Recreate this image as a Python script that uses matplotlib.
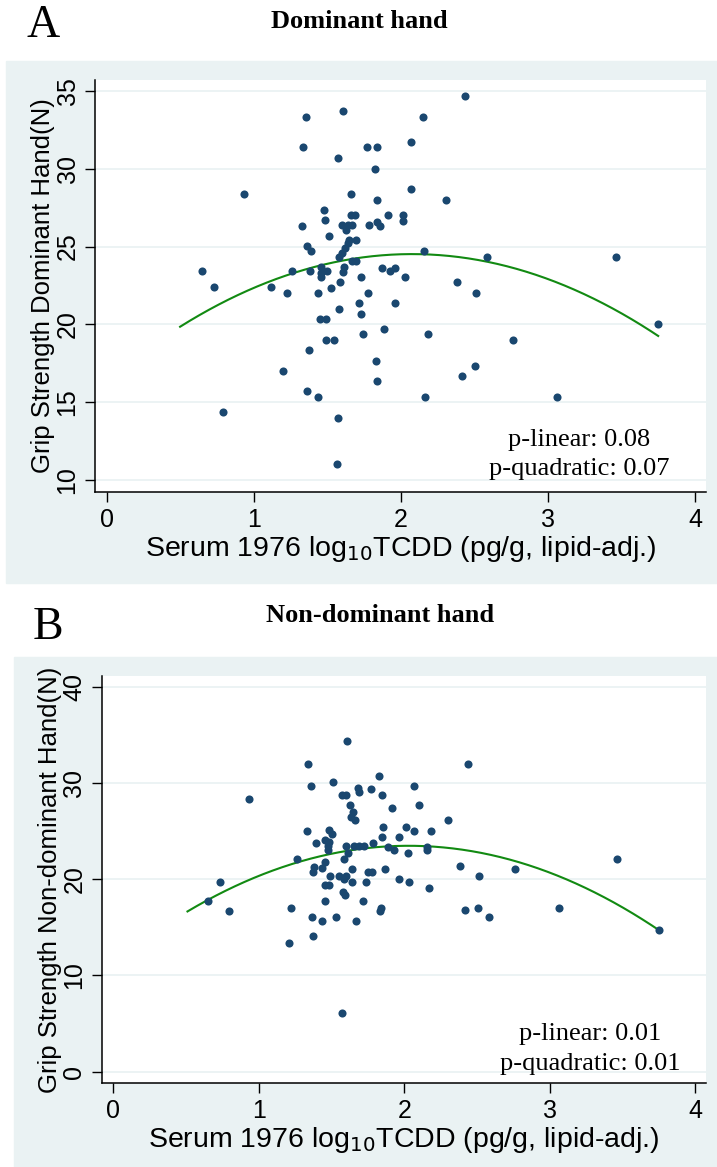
import numpy as np
import matplotlib
matplotlib.use('Agg')
import matplotlib.pyplot as plt
from matplotlib.patches import Rectangle

# Panel A: dominant hand, serum 1976 log10 TCDD vs grip strength (N)
dom_x = [0.646, 0.73, 0.795, 0.935, 1.115, 1.20, 1.226, 1.258, 1.328, 1.333,
         1.358, 1.36, 1.364, 1.378, 1.382, 1.39, 1.435, 1.438, 1.45, 1.457,
         1.457, 1.457, 1.476, 1.487, 1.489, 1.491, 1.50, 1.511, 1.527, 1.546,
         1.569, 1.573, 1.575, 1.579, 1.582, 1.589, 1.598, 1.598, 1.606, 1.605,
         1.613, 1.62, 1.627, 1.643, 1.64, 1.65, 1.66, 1.661, 1.666, 1.67,
         1.69, 1.693, 1.693, 1.713, 1.727, 1.733, 1.745, 1.768, 1.774, 1.781,
         1.824, 1.831, 1.838, 1.839, 1.84, 1.84, 1.858, 1.872, 1.885, 1.912,
         1.93, 1.962, 1.964, 2.012, 2.016, 2.026, 2.07, 2.07, 2.153, 2.155,
         2.166, 2.184, 2.31, 2.38, 2.417, 2.44, 2.504, 2.513, 2.585, 2.76,
         3.06, 3.46, 3.75]
dom_y = [23.4, 22.4, 14.35, 28.4, 22.4, 17.0, 22.0, 23.4, 26.35, 31.4,
         33.3, 25.05, 15.7, 18.35, 23.4, 24.7, 22.0, 15.35, 20.35, 23.7,
         23.3, 23.05, 27.35, 26.7, 20.35, 19.0, 23.4, 25.7, 22.35, 19.0,
         11.05, 14.0, 30.7, 24.3, 21.0, 22.7, 24.6, 26.4, 33.7, 23.35,
         23.7, 24.9, 26.05, 25.2, 26.4, 25.4, 28.4, 27.0, 24.05, 26.4,
         27.0, 25.4, 24.05, 21.35, 20.65, 23.05, 19.35, 31.4, 22.0, 26.4,
         30.0, 17.65, 16.35, 31.4, 28.0, 26.6, 26.35, 23.65, 19.7, 27.0,
         23.4, 23.65, 21.35, 26.65, 27.0, 23.05, 31.7, 28.7, 33.3, 24.7,
         15.35, 19.35, 28.0, 22.7, 16.7, 34.7, 17.35, 22.0, 24.35, 19.0,
         15.35, 24.35, 20.0]
# fitted (adjusted) quadratic curve
dom_fit_x = [0.5, 0.91, 1.0, 1.5, 2.0, 2.15, 2.58, 2.88, 3.22, 3.44, 3.75]
dom_fit_y = [19.9, 22.0, 22.32, 23.75, 24.42, 24.5, 24.18, 23.39, 22.1, 20.97, 19.2]

# Panel B: non-dominant hand
nondom_x = [0.649, 0.734, 0.797, 0.935, 1.205, 1.225, 1.262, 1.333, 1.337, 1.36,
            1.367, 1.372, 1.376, 1.378, 1.395, 1.435, 1.438, 1.454, 1.454, 1.456,
            1.456, 1.475, 1.479, 1.481, 1.481, 1.486, 1.493, 1.502, 1.513, 1.529,
            1.55, 1.572, 1.573, 1.577, 1.584, 1.585, 1.594, 1.600, 1.601, 1.601,
            1.606, 1.612, 1.628, 1.632, 1.639, 1.642, 1.645, 1.658, 1.664, 1.671,
            1.68, 1.692, 1.692, 1.717, 1.726, 1.738, 1.749, 1.772, 1.779, 1.783,
            1.825, 1.834, 1.841, 1.845, 1.847, 1.852, 1.870, 1.886, 1.914, 1.927,
            1.962, 1.966, 2.012, 2.023, 2.03, 2.069, 2.07, 2.099, 2.154, 2.154,
            2.168, 2.184, 2.298, 2.381, 2.419, 2.44, 2.506, 2.516, 2.585, 2.761,
            3.062, 3.46, 3.755]
nondom_y = [17.7, 19.7, 16.7, 28.35, 13.4, 17.05, 22.05, 25.05, 32.0, 29.7,
            16.1, 20.7, 14.05, 21.25, 23.8, 21.15, 15.7, 24.05, 17.7, 21.8,
            19.4, 23.05, 23.45, 25.1, 23.9, 19.4, 20.35, 24.7, 30.05, 16.1,
            20.35, 6.05, 28.75, 18.7, 22.05, 20.0, 18.4, 28.75, 23.4, 20.35,
            34.35, 22.7, 27.75, 26.45, 21.05, 19.7, 27.0, 23.4, 26.15, 15.7,
            29.45, 29.05, 23.4, 17.7, 23.4, 19.7, 20.75, 29.35, 20.75, 23.75,
            30.7, 16.7, 17.05, 28.7, 24.35, 25.4, 21.1, 23.3, 27.35, 23.05,
            24.35, 20.0, 25.4, 22.7, 19.7, 29.7, 25.05, 27.75, 23.3, 23.0,
            19.1, 25.05, 26.1, 21.4, 16.75, 32.0, 17.05, 20.35, 16.05, 21.05,
            17.05, 22.05, 14.7]
nondom_fit_x = [0.51, 1.14, 1.6, 1.83, 2.16, 2.52, 2.86, 3.2, 3.48, 3.75]
nondom_fit_y = [16.56, 21.3, 22.86, 23.31, 23.48, 22.79, 21.47, 19.22, 17.14, 14.9]

xticks = [0, 1, 2, 3, 4]
dom_yticks = [10, 15, 20, 25, 30, 35]
nondom_yticks = [0, 10, 20, 30, 40]
p_dom = ['0.08', '0.07']
p_nondom = ['0.01', '0.01']

W, H = 717, 1167
bg = '#eaf2f3'
navy = '#1a476f'
green = '#128a12'
sans = 'Liberation Sans'
serif = 'Liberation Serif'

def fx(x):
    return x / W

def fy(y):
    return 1 - y / H

fig = plt.figure(figsize=(W / 100, H / 100), dpi=100)
fig.patch.set_facecolor('white')

# outer graph regions (behind the axes)
fig.patches.append(Rectangle((fx(5.5), fy(583)), 1 - fx(5.5), (583 - 61) / H,
                             transform=fig.transFigure, color=bg, zorder=-10))
fig.patches.append(Rectangle((fx(13.7), 0), 1 - fx(13.7), (1167 - 656.7) / H,
                             transform=fig.transFigure, color=bg, zorder=-10))

def draw_panel(box, x, y, fit_x, fit_y, yticks, ylim, ylabel):
    left, top, right, bottom = box
    ax = fig.add_axes([fx(left), fy(bottom), fx(right) - fx(left), (bottom - top) / H])
    ax.set_zorder(1)
    ax.set_facecolor('white')
    for yt in yticks:
        ax.axhline(yt, color=bg, lw=1.3, zorder=1)
    ax.scatter(x, y, s=34, color=navy, lw=0, zorder=3)
    # quadratic through the curve values
    coef = np.polyfit(fit_x, fit_y, 2)
    xs = np.linspace(min(fit_x), max(fit_x), 200)
    ax.plot(xs, np.polyval(coef, xs), color=green, lw=1.5, zorder=2)
    ax.set_xlim(-0.075, 4.075)
    ax.set_ylim(*ylim)
    ax.set_xticks(xticks)
    ax.set_yticks(yticks)
    for s in ['top', 'right']:
        ax.spines[s].set_visible(False)
    for s in ['left', 'bottom']:
        ax.spines[s].set_linewidth(1.1)
    ax.tick_params(length=7, width=1.0, labelsize=18, pad=5)
    ax.tick_params(axis='y', labelrotation=90, pad=4.5)
    for lab in ax.get_yticklabels():
        lab.set_va('center')
        lab.set_family(sans)
    for lab in ax.get_xticklabels():
        lab.set_family(sans)
    ax.set_ylabel(ylabel, fontsize=18.5, family=sans, labelpad=0.5)
    ax.set_xlabel('Serum 1976 log$_{10}$TCDD (pg/g, lipid-adj.)', fontsize=20.5,
                  family=sans, labelpad=1)
    return ax

ax1 = draw_panel((95.5, 80, 706, 491.7), dom_x, dom_y, dom_fit_x, dom_fit_y,
                 dom_yticks, (9.25, 35.7), 'Grip Strength Dominant Hand(N)')
ax2 = draw_panel((102.4, 676, 706, 1082.7), nondom_x, nondom_y, nondom_fit_x, nondom_fit_y,
                 nondom_yticks, (-1.14, 41.1), 'Grip Strength Non-dominant Hand(N)')

# panel letters and titles
fig.text(fx(43), fy(26), 'A', fontsize=33, family=serif, ha='center', va='center')
fig.text(fx(359), fy(22), 'Dominant hand', fontsize=19, family=serif, weight='bold',
         ha='center', va='center')
fig.text(fx(48), fy(628), 'B', fontsize=33, family=serif, ha='center', va='center')
fig.text(fx(380), fy(615), 'Non-dominant hand', fontsize=19, family=serif, weight='bold',
         ha='center', va='center')

# p-values
fig.text(fx(579), fy(440), 'p-linear: ' + p_dom[0], fontsize=19, family=serif,
         ha='center', va='center', zorder=5)
fig.text(fx(579), fy(469), 'p-quadratic: ' + p_dom[1], fontsize=19, family=serif,
         ha='center', va='center', zorder=5)
fig.text(fx(590), fy(1034), 'p-linear: ' + p_nondom[0], fontsize=19, family=serif,
         ha='center', va='center', zorder=5)
fig.text(fx(590), fy(1064), 'p-quadratic: ' + p_nondom[1], fontsize=19, family=serif,
         ha='center', va='center', zorder=5)

fig.savefig('out.png', dpi=100)
